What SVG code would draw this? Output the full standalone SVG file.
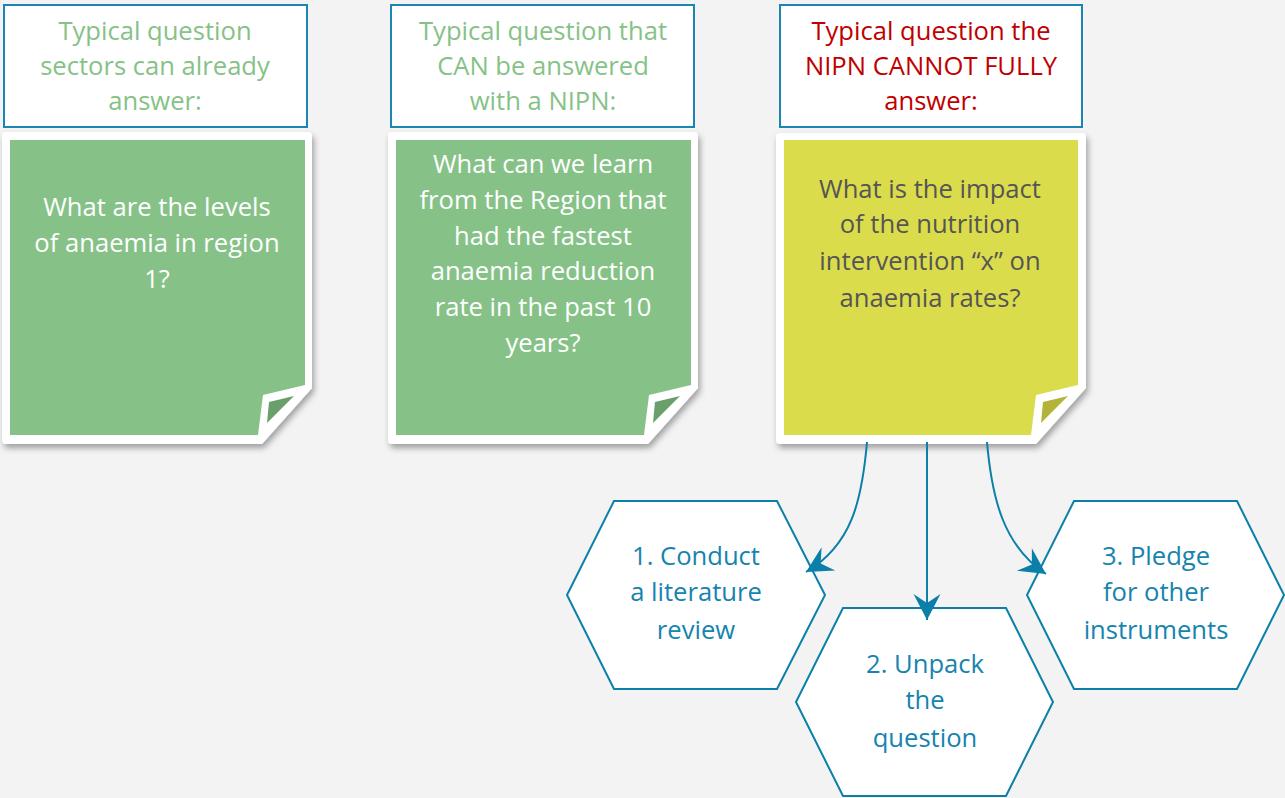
<svg xmlns="http://www.w3.org/2000/svg" width="1285" height="798" viewBox="0 0 1285 798">
  <defs>
    <style>
      .hdr { fill: #ffffff; stroke: #1B86B4; stroke-width: 2; }
      .t { font-family: "Open Sans", "DejaVu Sans", sans-serif; font-size: 25.6px; text-anchor: middle; }
      .green-t { fill: #86C287; }
      .red-t { fill: #C00000; }
      .white-t { fill: #ffffff; }
      .gray-t { fill: #555555; }
      .blue-t { fill: #1584AE; }
      .paper { fill: #ffffff; }
      .hex { fill: #ffffff; stroke: #0B7FAA; stroke-width: 2; }
      .conn { fill: none; stroke: #0B7FAA; stroke-width: 2; }
    </style>
    <filter id="shadow" x="-10%" y="-10%" width="125%" height="125%">
      <feDropShadow dx="2" dy="4" stdDeviation="3" flood-color="#000000" flood-opacity="0.35"/>
    </filter>
    <marker id="arr" markerUnits="userSpaceOnUse" markerWidth="32" markerHeight="32" refX="0" refY="0" viewBox="-28 -16 32 32" orient="auto">
      <path d="M0,0 L-26,-13.5 L-17,0 L-26,13.5 Z" fill="#0B7FAA"/>
    </marker>
  </defs>
  <rect x="0" y="0" width="1285" height="798" fill="#F3F3F3"/>

  <!-- Column 1 -->
  <g id="header1">
    <rect class="hdr" x="4" y="5" width="303" height="122"/>
    <text class="t green-t" x="155" y="40">Typical question</text>
    <text class="t green-t" x="155" y="75">sectors can already</text>
    <text class="t green-t" x="155" y="110">answer:</text>
  </g>
  <g id="note1">
    <path class="paper" filter="url(#shadow)" d="M2,136 Q2,132 6,132 H308 Q312,132 312,136 V388 L262,444 H6 Q2,444 2,440 Z"/>
    <path d="M10,140 H305 V385 L263,395 L258,435 H10 Z" fill="#86C287"/>
    <path d="M269,402 L294,396 L267,423 Z" fill="#6A9E6A"/>
    <text class="t white-t" x="157" y="216">What are the levels</text>
    <text class="t white-t" x="157" y="252">of anaemia in region</text>
    <text class="t white-t" x="157" y="288">1?</text>
  </g>

  <!-- Column 2 -->
  <g id="header2">
    <rect class="hdr" x="391" y="5" width="303" height="122"/>
    <text class="t green-t" x="543" y="40">Typical question that</text>
    <text class="t green-t" x="543" y="75">CAN be answered</text>
    <text class="t green-t" x="543" y="110">with a NIPN:</text>
  </g>
  <g id="note2">
    <path class="paper" filter="url(#shadow)" d="M388,136 Q388,132 392,132 H694 Q698,132 698,136 V388 L648,444 H392 Q388,444 388,440 Z"/>
    <path d="M396,140 H691 V385 L649,395 L644,435 H396 Z" fill="#86C287"/>
    <path d="M655,402 L680,396 L653,423 Z" fill="#6A9E6A"/>
    <text class="t white-t" x="543" y="173">What can we learn</text>
    <text class="t white-t" x="543" y="209">from the Region that</text>
    <text class="t white-t" x="543" y="245">had the fastest</text>
    <text class="t white-t" x="543" y="280">anaemia reduction</text>
    <text class="t white-t" x="543" y="316">rate in the past 10</text>
    <text class="t white-t" x="543" y="352">years?</text>
  </g>

  <!-- Column 3 -->
  <g id="header3">
    <rect class="hdr" x="780" y="5" width="302" height="122"/>
    <text class="t red-t" x="931" y="40">Typical question the</text>
    <text class="t red-t" x="931" y="75">NIPN CANNOT FULLY</text>
    <text class="t red-t" x="931" y="110">answer:</text>
  </g>
  <g id="note3">
    <path class="paper" filter="url(#shadow)" d="M776,137 Q776,133 780,133 H1082 Q1086,133 1086,137 V388 L1036,444 H780 Q776,444 776,440 Z"/>
    <path d="M784,140 H1078 V385 L1036,395 L1031,435 H784 Z" fill="#DBDC4C"/>
    <path d="M1043,402 L1068,396 L1041,423 Z" fill="#B3B33A"/>
    <text class="t gray-t" x="930" y="198">What is the impact</text>
    <text class="t gray-t" x="930" y="233">of the nutrition</text>
    <text class="t gray-t" x="930" y="270">intervention “x” on</text>
    <text class="t gray-t" x="930" y="307">anaemia rates?</text>
  </g>

  <!-- Hexagons -->
  <g id="hex1">
    <polygon class="hex" points="614,501 777,501 825,595 777,689 614,689 567,595"/>
    <text class="t blue-t" x="696" y="565">1. Conduct</text>
    <text class="t blue-t" x="696" y="601">a literature</text>
    <text class="t blue-t" x="696" y="639">review</text>
  </g>
  <g id="hex2">
    <polygon class="hex" points="843,608 1006,608 1053,702 1006,796 843,796 796,702"/>
    <text class="t blue-t" x="925" y="673">2. Unpack</text>
    <text class="t blue-t" x="925" y="709">the</text>
    <text class="t blue-t" x="925" y="747">question</text>
  </g>
  <g id="hex3">
    <polygon class="hex" points="1074,501 1237,501 1284,595 1237,689 1074,689 1027,595"/>
    <text class="t blue-t" x="1156" y="565">3. Pledge</text>
    <text class="t blue-t" x="1156" y="601">for other</text>
    <text class="t blue-t" x="1156" y="639">instruments</text>
  </g>

  <!-- Connectors -->
  <g id="connectors">
    <path class="conn" d="M867,442 C862,500 852,545 806,572" marker-end="url(#arr)"/>
    <path class="conn" d="M927,442 V620" marker-end="url(#arr)"/>
    <path class="conn" d="M987,442 C992,500 1004,546 1046,574" marker-end="url(#arr)"/>
  </g>
</svg>
